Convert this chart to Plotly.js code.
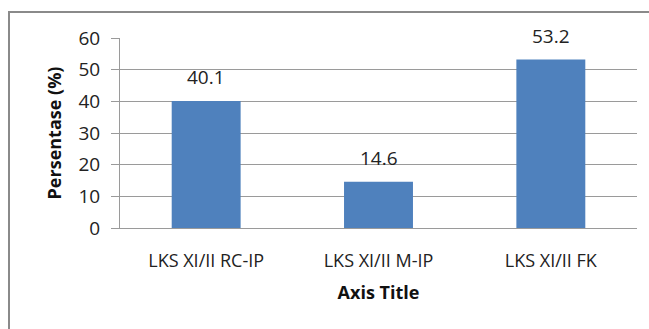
<!DOCTYPE html>
<html><head><meta charset="utf-8">
<script src="https://cdn.plot.ly/plotly-3.0.1.min.js"></script>
<style>
html,body{margin:0;padding:0;background:#fff;}
#wrap{position:relative;width:649px;height:329px;}
#chart{width:649px;height:329px;}
#frame{position:absolute;left:8px;top:11px;width:700px;height:400px;border-left:2px solid #8a8a8a;border-top:2px solid #8a8a8a;pointer-events:none;}
</style></head>
<body>
<div id="wrap"><div id="chart"></div><div id="frame"></div></div>
<script>
const categories = ["LKS XI/II RC-IP", "LKS XI/II M-IP", "LKS XI/II FK"];
const values = [40.1, 14.6, 53.2];
const valueLabels = ["40.1", "14.6", "53.2"];
const yTicks = [0, 10, 20, 30, 40, 50, 60];

const font = "Open Sans, Liberation Sans, sans-serif";
const gray = '#9a9a9a';
const annotations = categories.map((c, i) => ({
  x: c, y: values[i], xref: 'x', yref: 'y',
  text: valueLabels[i], showarrow: false,
  yanchor: 'bottom', yshift: 9,
  font: {family: font, size: 19, color: '#222'}
}));

Plotly.newPlot('chart', [{
  type: 'bar',
  x: categories,
  y: values,
  marker: {color: '#4f81bd'},
  width: 0.4,
  hoverinfo: 'none'
}], {
  width: 649, height: 329,
  margin: {l: 120, r: 12, t: 38, b: 101},
  paper_bgcolor: '#fff', plot_bgcolor: '#fff',
  showlegend: false,
  annotations: annotations,
  xaxis: {
    type: 'category',
    showline: true, linecolor: gray, linewidth: 1,
    ticks: 'outside', ticklen: 16, tickcolor: 'rgba(0,0,0,0)',
    tickfont: {family: font, size: 18, color: '#222'},
    title: {text: 'Axis Title', font: {family: font, size: 18, color: '#111', weight: 'bold'}, standoff: 15},
    fixedrange: true
  },
  yaxis: {
    range: [0, 60],
    tickvals: yTicks,
    ticktext: yTicks.map(String),
    showline: true, linecolor: gray, linewidth: 1,
    showgrid: true, gridcolor: gray, gridwidth: 1,
    ticks: 'outside', ticklen: 8, tickcolor: gray,
    ticklabelstandoff: 7,
    tickfont: {family: font, size: 19, color: '#222'},
    title: {text: 'Persentase (%)', font: {family: font, size: 18, color: '#111', weight: 'bold'}, standoff: 12},
    zeroline: false,
    fixedrange: true
  }
}, {staticPlot: true});
</script>
</body></html>
